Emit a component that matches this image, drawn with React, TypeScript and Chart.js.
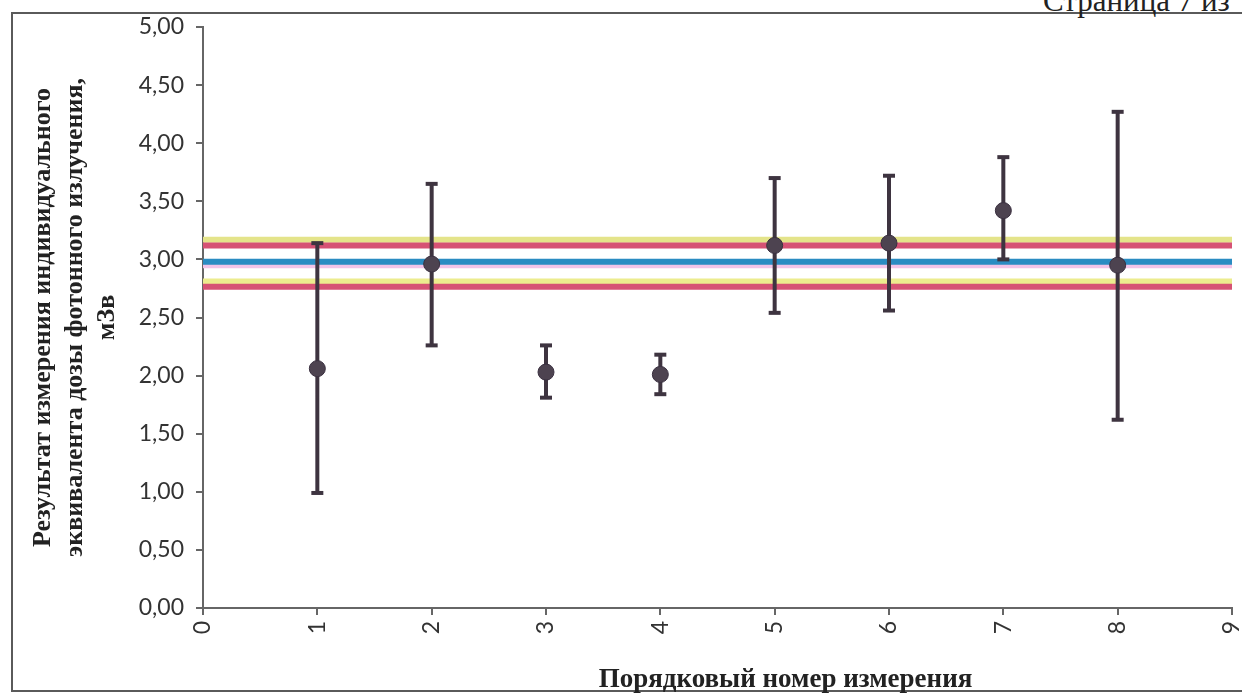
import React, { useEffect, useRef } from "react";
import { Chart, registerables } from "chart.js";

Chart.register(...registerables);

// ---- data ----
const measurementNumbers = [1, 2, 3, 4, 5, 6, 7, 8];
const measuredValues = [2.06, 2.96, 2.03, 2.01, 3.12, 3.14, 3.42, 2.95];
const upperBounds = [3.14, 3.65, 2.26, 2.18, 3.7, 3.72, 3.88, 4.27];
const lowerBounds = [0.99, 2.26, 1.81, 1.84, 2.54, 2.56, 3.0, 1.62];

// horizontal reference levels (yellow, red, blue, pink, yellow, red)
const levelValues = [3.17, 3.12, 2.98, 2.95, 2.81, 2.765];
const levelSpan = [0, 9];

const xTickValues = [0, 1, 2, 3, 4, 5, 6, 7, 8, 9];
const yTickValues = [0, 0.5, 1, 1.5, 2, 2.5, 3, 3.5, 4, 4.5, 5];

const yTitleLines = [
  "Результат измерения индивидуального",
  "эквивалента дозы фотонного излучения,",
  "мЗв",
];
const xTitle = "Порядковый номер измерения";
const pageText = "Страница 7 из";

// ---- styles ----
const levelColors = ["#e4e48a", "#d65274", "#2a8cc2", "#f2c4e8", "#ecec8e", "#d65274"];
const levelWidths = [6, 6, 6, 6, 6, 6];
const levelOrders = [18, 17, 15, 16, 18, 17];

const xTitlePlugin = {
  id: "xTitlePlugin",
  afterDraw(chart: any) {
    const { ctx, chartArea } = chart;
    ctx.save();
    ctx.font = "bold 27px 'Liberation Serif'";
    ctx.fillStyle = "#222";
    ctx.textAlign = "center";
    ctx.textBaseline = "middle";
    const cx = (chartArea.left + chartArea.right) / 2 + 68;
    ctx.fillText(xTitle, cx, chart.height - 15);
    ctx.restore();
  },
};

export default function App() {
  const ref = useRef<HTMLCanvasElement>(null);

  useEffect(() => {
    const canvas = ref.current;
    if (!canvas) return;

    const errorData: any[] = [];
    measurementNumbers.forEach((n, i) => {
      errorData.push({ x: n, y: lowerBounds[i] });
      errorData.push({ x: n, y: upperBounds[i] });
      errorData.push({ x: n, y: null });
    });

    const levelDatasets = levelValues.map((v, i) => ({
      type: "scatter" as const,
      data: levelSpan.map((x) => ({ x, y: v })),
      showLine: true,
      borderColor: levelColors[i],
      borderWidth: levelWidths[i],
      pointRadius: 0,
      order: levelOrders[i],
    }));

    const tickFont = { family: "Lato", size: 23 };

    const chart = new Chart(canvas, {
      type: "scatter",
      data: {
        datasets: [
          {
            data: measurementNumbers.map((x, i) => ({ x, y: measuredValues[i] })),
            pointRadius: 8,
            backgroundColor: "#4d4350",
            borderColor: "#3a3040",
            borderWidth: 1,
            order: 1,
          },
          {
            data: errorData,
            showLine: true,
            spanGaps: false,
            borderColor: "#3e3440",
            borderWidth: 4,
            pointStyle: "line",
            pointRadius: 6,
            pointBorderWidth: 4,
            pointBorderColor: "#3e3440",
            order: 2,
          },
          ...levelDatasets,
        ] as any,
      },
      options: {
        animation: false,
        responsive: false,
        devicePixelRatio: 1,
        events: [],
        layout: { padding: { left: 0, top: 27, right: 10, bottom: 0 } },
        plugins: {
          legend: { display: false },
          tooltip: { enabled: false },
        },
        scales: {
          x: {
            type: "linear",
            min: 0,
            max: 9,
            afterBuildTicks: (scale: any) => {
              scale.ticks = xTickValues.map((value) => ({ value }));
            },
            afterFit: (scale: any) => {
              scale.height = 87;
              scale.paddingLeft = 0;
              scale.paddingRight = 0;
            },
            ticks: {
              autoSkip: false,
              minRotation: 90,
              maxRotation: 90,
              padding: 6,
              color: "#333",
              font: tickFont,
              callback: (v: any) => String(v),
            },
            grid: {
              drawOnChartArea: false,
              drawTicks: true,
              tickLength: 7,
              color: "#666",
              lineWidth: 2,
            },
            border: { display: true, color: "#666", width: 2 },
          },
          y: {
            type: "linear",
            min: 0,
            max: 5,
            afterBuildTicks: (scale: any) => {
              scale.ticks = yTickValues.map((value) => ({ value }));
            },
            afterFit: (scale: any) => {
              scale.width = 203;
            },
            ticks: {
              padding: 12,
              color: "#333",
              font: tickFont,
              callback: (v: any) => Number(v).toFixed(2).replace(".", ","),
            },
            grid: {
              drawOnChartArea: false,
              drawTicks: true,
              tickLength: 7,
              color: "#666",
              lineWidth: 2,
            },
            border: { display: true, color: "#666", width: 2 },
            title: {
              display: true,
              text: yTitleLines,
              color: "#222",
              font: { family: "Liberation Serif", size: 26, weight: "bold", lineHeight: 32 / 26 },
              padding: { top: 27, bottom: 0 },
            },
          },
        },
      } as any,
      plugins: [xTitlePlugin],
    });

    return () => chart.destroy();
  }, []);

  return (
    <div
      style={{
        position: "fixed",
        left: 0,
        top: 0,
        width: 1242,
        height: 695,
        background: "#fff",
        overflow: "hidden",
      }}
    >
      <div
        style={{
          position: "absolute",
          left: 11,
          top: 12,
          width: 1300,
          height: 676,
          border: "2px solid #5a5a5a",
        }}
      />
      <div
        style={{
          position: "absolute",
          left: 1043,
          top: -15,
          fontFamily: "'Liberation Serif'",
          fontSize: 31,
          lineHeight: "31px",
          color: "#222",
          whiteSpace: "nowrap",
        }}
      >
        {pageText}
      </div>
      <canvas
        ref={ref}
        width={1242}
        height={695}
        style={{ position: "absolute", left: 0, top: 0, width: 1242, height: 695 }}
      />
    </div>
  );
}
